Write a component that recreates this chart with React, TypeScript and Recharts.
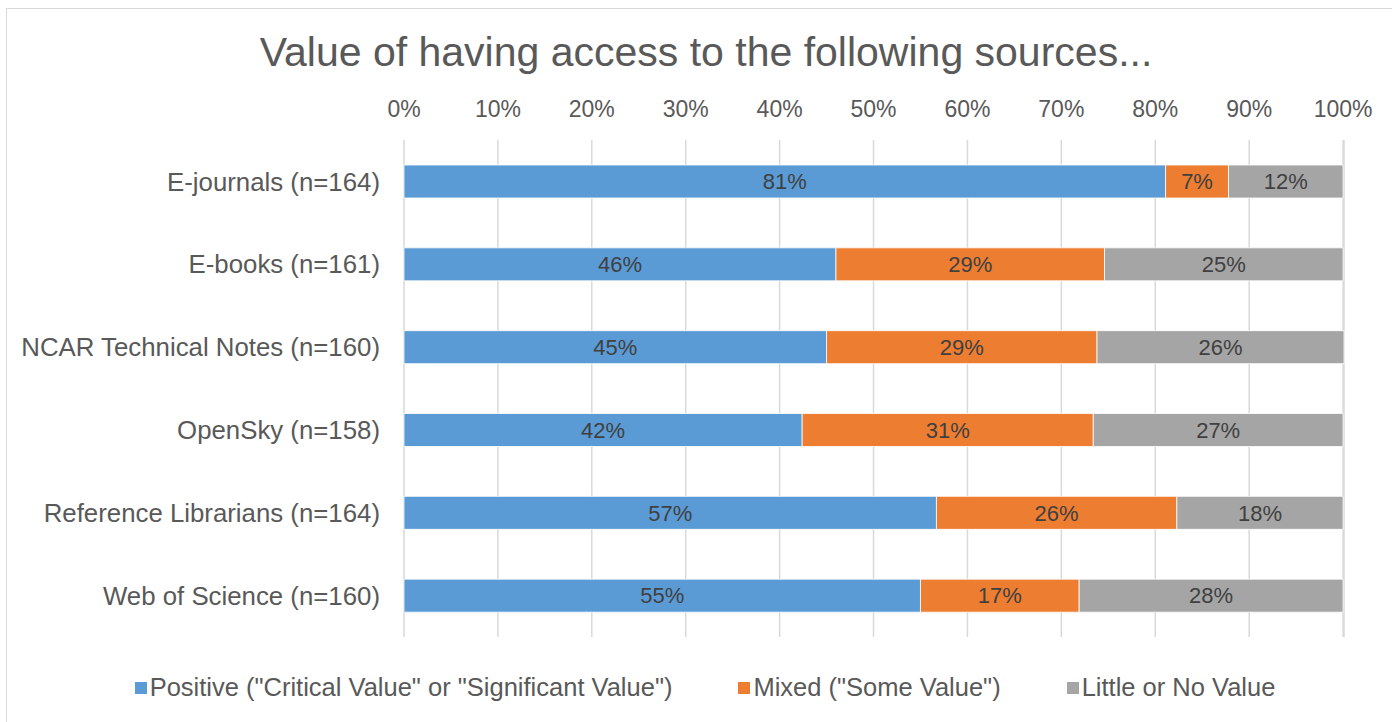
import React from 'react';
import { BarChart, Bar, XAxis, YAxis, CartesianGrid, Legend, LabelList } from 'recharts';

const sources = [
  'E-journals (n=164)',
  'E-books (n=161)',
  'NCAR Technical Notes (n=160)',
  'OpenSky (n=158)',
  'Reference Librarians (n=164)',
  'Web of Science (n=160)',
];

// share of respondents, in percent
const positive = [81.1, 46.0, 45.0, 42.4, 56.7, 55.0];
const mixed = [6.7, 28.6, 28.8, 31.0, 25.6, 16.9];
const little = [12.2, 25.4, 26.3, 26.6, 17.7, 28.1];

const xTicks = [0, 10, 20, 30, 40, 50, 60, 70, 80, 90, 100];

const seriesNames = [
  'Positive ("Critical Value" or "Significant Value")',
  'Mixed ("Some Value")',
  'Little or No Value',
];
const seriesColors = ['#5B9BD5', '#ED7D31', '#A5A5A5'];

const data = sources.map((name, i) => ({
  name,
  positive: positive[i],
  mixed: mixed[i],
  little: little[i],
}));

const FONT = '"Liberation Sans", Arial, sans-serif';

const renderLegend = (props: any) => {
  const items = [...props.payload].sort(
    (a: any, b: any) => seriesNames.indexOf(a.value) - seriesNames.indexOf(b.value)
  );
  return (
    <div style={{ display: 'flex', justifyContent: 'center', fontFamily: FONT, paddingLeft: 18 }}>
      {items.map((p: any, i: number) => (
        <div key={i} style={{ display: 'flex', alignItems: 'center', marginRight: i < items.length - 1 ? 66 : 0 }}>
          <span style={{ width: 12, height: 12, background: p.color, display: 'inline-block', marginRight: 3 }} />
          <span style={{ fontSize: 25.5, color: '#595959' }}>{p.value}</span>
        </div>
      ))}
    </div>
  );
};

const pct = (v: any) => `${Math.round(Number(v))}%`;

const App = () => {
  return (
    <div style={{ position: 'absolute', left: 0, top: 0, width: 1392, height: 722, overflow: 'hidden', background: '#fff' }}>
      <div
        style={{
          position: 'absolute',
          left: 6,
          top: 8,
          width: 1400,
          height: 740,
          border: '1.5px solid #d9d9d9',
        }}
      />
      <div
        style={{
          position: 'absolute',
          left: 0,
          top: 27,
          width: 1412,
          textAlign: 'center',
          fontFamily: FONT,
          fontSize: 41,
          color: '#595959',
          lineHeight: '50px',
        }}
      >
        Value of having access to the following sources...
      </div>
      <div style={{ position: 'absolute', left: 0, top: 0 }}>
        <BarChart
          width={1392}
          height={722}
          data={data}
          layout="vertical"
          barSize={33}
          margin={{ top: 100, right: 48, bottom: 85, left: 0 }}
        >
          <CartesianGrid horizontal={false} stroke="#d9d9d9" strokeWidth={1.5} />
          <XAxis
            type="number"
            orientation="top"
            domain={[0, 100]}
            ticks={xTicks}
            tickFormatter={(v) => `${v}%`}
            height={40}
            axisLine={false}
            tickLine={false}
            tickSize={0}
            tickMargin={23}
            tick={{ fill: '#595959', fontSize: 23, fontFamily: FONT }}
            interval={0}
          />
          <YAxis
            type="category"
            dataKey="name"
            width={404}
            axisLine={false}
            tickLine={false}
            tickSize={0}
            tickMargin={24}
            tick={{ fill: '#595959', fontSize: 25.8, fontFamily: FONT }}
            interval={0}
          />
          <Legend
            verticalAlign="middle"
            align="center"
            content={renderLegend}
            wrapperStyle={{ top: 673, left: 0, width: 1392 }}
          />
          <Bar dataKey="positive" name={seriesNames[0]} stackId="a" fill={seriesColors[0]} stroke="#fff" strokeWidth={0.8} isAnimationActive={false}>
            <LabelList dataKey="positive" position="center" formatter={pct} fill="#404040" fontSize={22} fontFamily={FONT} />
          </Bar>
          <Bar dataKey="mixed" name={seriesNames[1]} stackId="a" fill={seriesColors[1]} stroke="#fff" strokeWidth={0.8} isAnimationActive={false}>
            <LabelList dataKey="mixed" position="center" formatter={pct} fill="#404040" fontSize={22} fontFamily={FONT} />
          </Bar>
          <Bar dataKey="little" name={seriesNames[2]} stackId="a" fill={seriesColors[2]} stroke="#fff" strokeWidth={0.8} isAnimationActive={false}>
            <LabelList dataKey="little" position="center" formatter={pct} fill="#404040" fontSize={22} fontFamily={FONT} />
          </Bar>
        </BarChart>
      </div>
    </div>
  );
};

export default App;
